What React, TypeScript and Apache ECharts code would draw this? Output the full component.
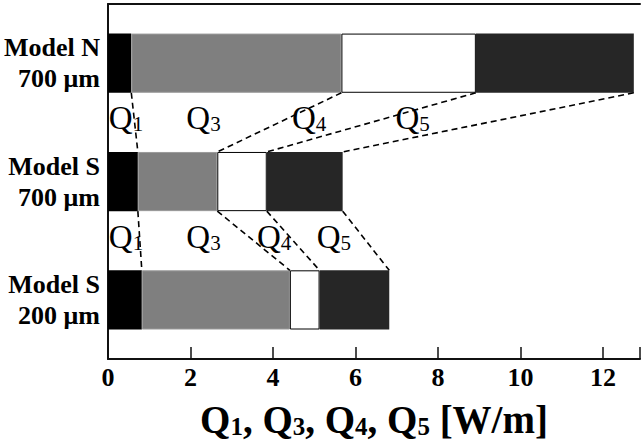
import React, { useEffect, useRef } from "react";
import * as echarts from "echarts";

const categories = ["Model N\n700 μm", "Model S\n700 μm", "Model S\n200 μm"];
const q1Values = [0.565, 0.724, 0.82];
const q3Values = [5.095, 1.926, 3.59];
const q4Values = [3.26, 1.2, 0.72];
const q5Values = [3.83, 1.84, 1.69];
const xTicks = [0, 2, 4, 6, 8, 10, 12];
const labelSubs = ["1", "3", "4", "5"];
const upperLabelX = [0.02, 1.9, 4.46, 6.97];
const lowerLabelX = [0.02, 1.9, 3.61, 5.06];

const FONT = "'Liberation Serif', 'Times New Roman', serif";

export default function App() {
  const ref = useRef<HTMLDivElement>(null);
  useEffect(() => {
    if (!ref.current) return;
    const chart = echarts.init(ref.current, null, { renderer: "svg" });

    const bounds = categories.map((_, i) => {
      const a = q1Values[i];
      const b = a + q3Values[i];
      const c = b + q4Values[i];
      const d = c + q5Values[i];
      return [a, b, c, d];
    });
    const connectors: number[][] = [];
    for (let r = 0; r < categories.length - 1; r++) {
      for (let k = 0; k < 4; k++) {
        connectors.push([bounds[r][k], r, bounds[r + 1][k], r + 1]);
      }
    }
    const labels: number[][] = [];
    upperLabelX.forEach((x, k) => labels.push([x, 0, k]));
    lowerLabelX.forEach((x, k) => labels.push([x, 1, k]));

    const subRich = (size: number, subSize: number, pad: number, bold: boolean) => ({
      m: {
        fontSize: size,
        lineHeight: size,
        fontFamily: FONT,
        fontWeight: bold ? "bold" : "normal",
        color: "#000",
        verticalAlign: "top",
      },
      s: {
        fontSize: subSize,
        lineHeight: subSize,
        fontFamily: FONT,
        fontWeight: bold ? "bold" : "normal",
        color: "#000",
        padding: [pad, 0, 0, 0],
        verticalAlign: "bottom",
      },
    });

    const barBase = {
      type: "bar",
      stack: "total",
      barWidth: "50%",
      xAxisIndex: 0,
      yAxisIndex: 0,
    };

    chart.setOption({
      animation: false,
      grid: { left: 108, right: 0, top: 4, bottom: 81, containLabel: false },
      xAxis: [
        {
          type: "value",
          min: 0,
          max: 12.9,
          interval: 2,
          position: "bottom",
          axisLine: { show: true, lineStyle: { color: "#111", width: 2 } },
          axisTick: { show: true, inside: true, length: 12, lineStyle: { color: "#111", width: 1.5 } },
          splitLine: { show: false },
          axisLabel: {
            show: true,
            margin: 5,
            fontFamily: FONT,
            fontWeight: "bold",
            fontSize: 26,
            color: "#000",
            formatter: (v: number) => (xTicks.includes(v) ? String(v) : ""),
          },
          name: "{m|Q}{s|1}{m|, Q}{s|3}{m|, Q}{s|4}{m|, Q}{s|5}{m| [W/m]}",
          nameLocation: "middle",
          nameGap: 32,
          nameTextStyle: { rich: subRich(39, 25, 19, true) },
        },
        {
          type: "value",
          min: 0,
          max: 12.9,
          position: "top",
          axisLine: { show: true, lineStyle: { color: "#111", width: 2 } },
          axisTick: { show: false },
          axisLabel: { show: false },
          splitLine: { show: false },
        },
      ],
      yAxis: {
        type: "category",
        data: categories,
        inverse: true,
        axisLine: { show: true, lineStyle: { color: "#111", width: 2 } },
        axisTick: { show: false },
        axisLabel: {
          margin: 8,
          fontFamily: FONT,
          fontWeight: "bold",
          fontSize: 26,
          lineHeight: 31,
          color: "#000",
          align: "right",
        },
      },
      series: [
        { ...barBase, name: "Q1", data: q1Values, itemStyle: { color: "#000000" } },
        { ...barBase, name: "Q3", data: q3Values, itemStyle: { color: "#7f7f7f", borderColor: "#9a9a9a", borderWidth: 1 } },
        {
          ...barBase,
          name: "Q4",
          data: q4Values,
          itemStyle: { color: "#ffffff", borderColor: "#000", borderWidth: 1 },
        },
        { ...barBase, name: "Q5", data: q5Values, itemStyle: { color: "#262626" } },
        {
          type: "custom",
          xAxisIndex: 0,
          yAxisIndex: 0,
          data: connectors,
          encode: { x: [0, 2], y: [1, 3] },
          silent: true,
          renderItem: (params: any, api: any) => {
            const p1 = api.coord([api.value(0), api.value(1)]);
            const p2 = api.coord([api.value(2), api.value(3)]);
            const h = api.size([0, 1])[1] * 0.25;
            return {
              type: "line",
              shape: { x1: p1[0], y1: p1[1] + h, x2: p2[0], y2: p2[1] - h },
              style: { stroke: "#000", lineWidth: 1.6, lineDash: [6, 4] },
            };
          },
          z: 5,
        },
        {
          type: "custom",
          xAxisIndex: 0,
          yAxisIndex: 0,
          data: labels,
          encode: { x: 0, y: 1 },
          silent: true,
          renderItem: (params: any, api: any) => {
            const x = api.value(0);
            const r = api.value(1);
            const k = api.value(2);
            const a = api.coord([x, r]);
            const b = api.coord([x, r + 1]);
            return {
              type: "text",
              style: {
                x: a[0],
                y: (a[1] + b[1]) / 2 - 4,
                text: `{m|Q}{s|${labelSubs[k]}}`,
                rich: subRich(33, 21, 16, false),
                align: "left",
                verticalAlign: "middle",
              },
              z2: 10,
            };
          },
          z: 6,
        },
      ],
    });
    return () => chart.dispose();
  }, []);
  return (
    <div
      ref={ref}
      style={{ position: "fixed", left: 0, top: 0, width: 643, height: 444, background: "#fff" }}
    />
  );
}
